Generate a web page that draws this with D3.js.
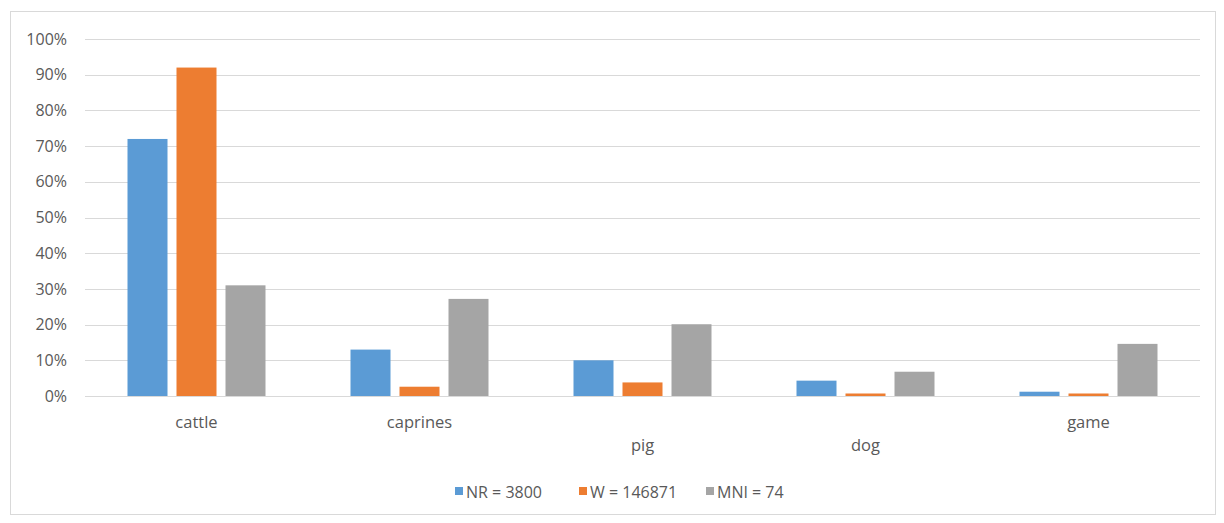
<!DOCTYPE html>
<html>
<head>
<meta charset="utf-8">
<script src="https://cdn.jsdelivr.net/npm/d3@7"></script>
<style>
  html, body { margin: 0; padding: 0; background: #fff; }
  svg { display: block; }
  text { font-family: "Open Sans", "Liberation Sans", sans-serif; fill: #595959; }
</style>
</head>
<body>
<svg id="chart" width="1224" height="523"></svg>
<script>
// Taxon categories and the share of each in the assemblage (percent)
const categories = ["cattle", "caprines", "pig", "dog", "game"];
const seriesNames = ["NR = 3800", "W = 146871", "MNI = 74"];
const nrValues  = [72, 13, 10, 4.3, 1.2];
const wValues   = [92, 2.6, 3.8, 0.7, 0.7];
const mniValues = [31, 27.2, 20.1, 6.8, 14.6];
const yTicks = [0, 10, 20, 30, 40, 50, 60, 70, 80, 90, 100];
const colors = ["#5B9BD5", "#ED7D31", "#A5A5A5"];

const series = [nrValues, wValues, mniValues];

const svg = d3.select("#chart");

// outer frame
svg.append("rect")
  .attr("x", 10.5).attr("y", 11.5)
  .attr("width", 1205).attr("height", 503)
  .attr("fill", "#fff").attr("stroke", "#d9d9d9").attr("stroke-width", 1);

const plot = { left: 85, right: 1200, top: 39, bottom: 396 };

const x = d3.scaleBand().domain(categories).range([plot.left, plot.right]);
const y = d3.scaleLinear().domain([0, 100]).range([plot.bottom, plot.top]);

// horizontal gridlines
svg.append("g")
  .selectAll("line")
  .data(yTicks)
  .join("line")
  .attr("x1", plot.left).attr("x2", plot.right)
  .attr("y1", d => Math.round(y(d)) + 0.5)
  .attr("y2", d => Math.round(y(d)) + 0.5)
  .attr("stroke", "#d9d9d9").attr("stroke-width", 1);

// y axis labels
const yAxis = d3.axisLeft(y).tickValues(yTicks).tickFormat(d => d + "%").tickSize(0).tickPadding(0);
const yg = svg.append("g").attr("transform", `translate(${67},0)`).call(yAxis);
yg.select(".domain").remove();
yg.selectAll("text").attr("font-size", 16).style("font-family", "'Open Sans', sans-serif").attr("fill", "#595959");

// bars grouped per category
const barW = 40, gap = 9;
const inner = d3.scaleBand().domain(d3.range(series.length))
  .range([-(barW * 3 + gap * 2) / 2, (barW * 3 + gap * 2) / 2])
  .paddingInner(gap / (barW + gap));

series.forEach((vals, si) => {
  svg.append("g")
    .selectAll("rect")
    .data(vals)
    .join("rect")
    .attr("x", (d, i) => x(categories[i]) + x.bandwidth() / 2 + inner(si))
    .attr("width", inner.bandwidth())
    .attr("y", d => y(d))
    .attr("height", d => y(0) - y(d))
    .attr("fill", colors[si]);
});

// category labels (two rows, as laid out in the original chart)
const labelRow = { cattle: 0, caprines: 0, pig: 1, dog: 1, game: 0 };
svg.append("g")
  .selectAll("text")
  .data(categories)
  .join("text")
  .attr("x", d => x(d) + x.bandwidth() / 2)
  .attr("y", d => 428 + labelRow[d] * 23)
  .attr("text-anchor", "middle")
  .attr("font-size", 16.5)
  .text(d => d);

// legend
const legendX = [455, 579, 706];
const lg = svg.append("g");
seriesNames.forEach((name, i) => {
  lg.append("rect")
    .attr("x", legendX[i]).attr("y", 487)
    .attr("width", 8).attr("height", 8)
    .attr("fill", colors[i]);
  lg.append("text")
    .attr("x", legendX[i] + 11).attr("y", 498)
    .attr("font-size", 16)
    .text(name);
});
</script>
</body>
</html>
